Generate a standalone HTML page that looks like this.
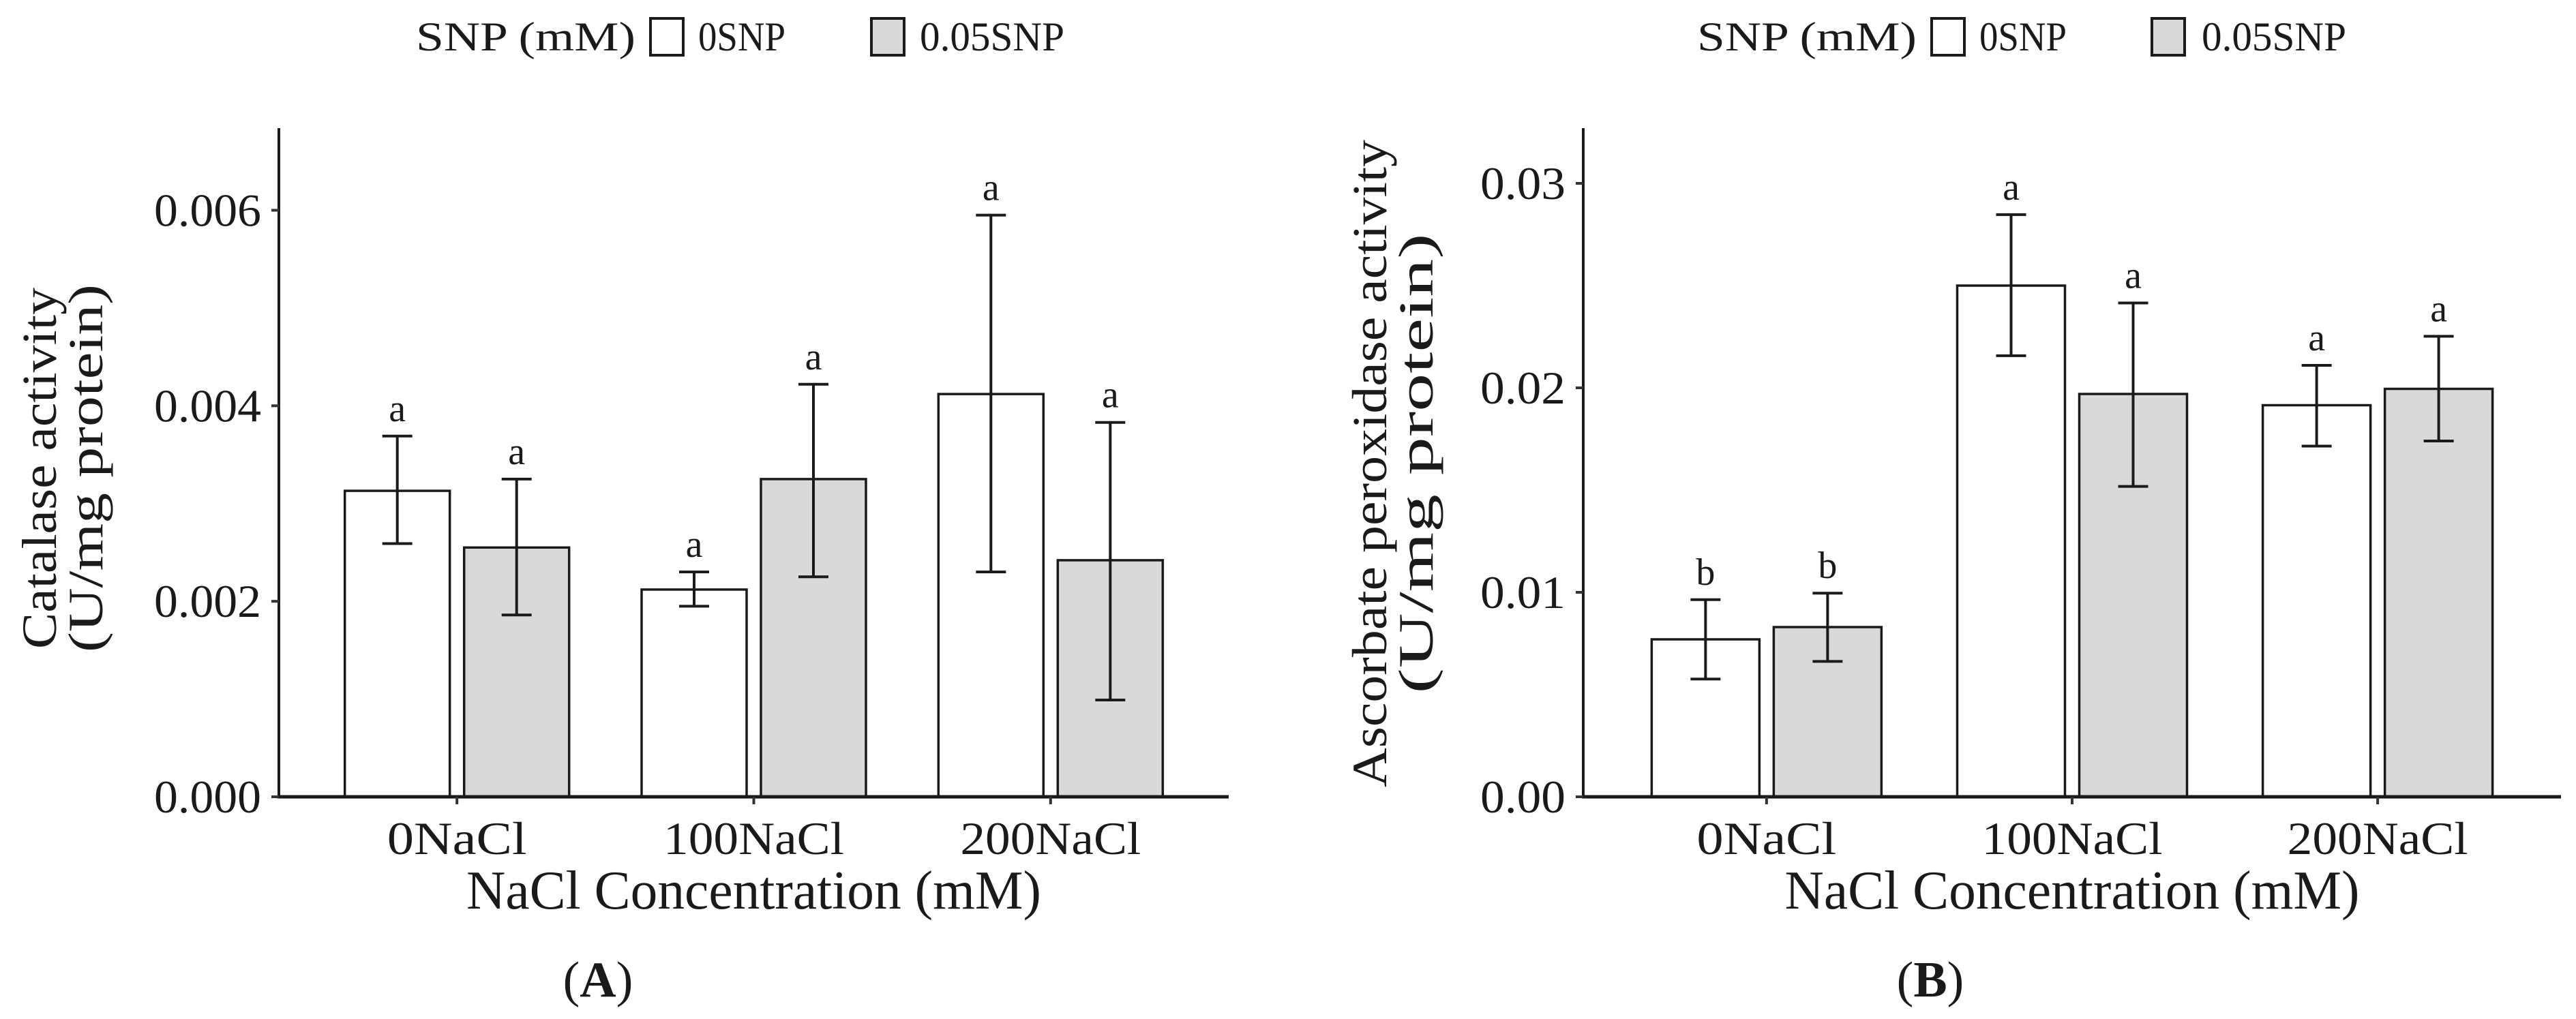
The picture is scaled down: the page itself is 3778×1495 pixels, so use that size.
<!DOCTYPE html>
<html><head><meta charset="utf-8"><style>
html,body{margin:0;padding:0;background:#fff}
svg{display:block}
text{font-family:"Liberation Serif",serif;fill:#1a1a1a}
</style></head><body>
<svg id="fig" width="3778" height="1495" viewBox="0 0 3778 1495" xmlns="http://www.w3.org/2000/svg"></svg>
<script>
const categories = ["0NaCl","100NaCl","200NaCl"];
const seriesNames = ["0SNP","0.05SNP"];
// Panel A: catalase
const catalase0 = [0.00313,0.00212,0.00412];
const catalase0Lo = [0.00259,0.00195,0.00230];
const catalase0Hi = [0.00369,0.00230,0.00595];
const catalase05 = [0.00255,0.00325,0.00242];
const catalase05Lo = [0.00186,0.00225,0.00099];
const catalase05Hi = [0.00325,0.00422,0.00383];
const catalaseLetters0 = ["a","a","a"];
const catalaseLetters05 = ["a","a","a"];
const catalaseTicks = [0,0.002,0.004,0.006];
const catalaseTickLabels = ["0.000","0.002","0.004","0.006"];
// Panel B: ascorbate peroxidase
const apx0 = [0.0077,0.0250,0.01915];
const apx0Lo = [0.00576,0.02157,0.01715];
const apx0Hi = [0.00964,0.02847,0.0211];
const apx05 = [0.0083,0.0197,0.01995];
const apx05Lo = [0.00662,0.01518,0.0174];
const apx05Hi = [0.00996,0.02415,0.02252];
const apxLetters0 = ["b","a","a"];
const apxLetters05 = ["b","a","a"];
const apxTicks = [0,0.01,0.02,0.03];
const apxTickLabels = ["0.00","0.01","0.02","0.03"];

const svg = document.getElementById('fig');
const NS = "http://www.w3.org/2000/svg";
function mk(tag, attrs, parent){
  const e = document.createElementNS(NS, tag);
  for (const k in attrs) e.setAttribute(k, attrs[k]);
  (parent||svg).appendChild(e);
  return e;
}
const TL = {"0.000":157,"0.002":157,"0.004":157,"0.006":157,"0.00":125,"0.01":125,"0.02":125,"0.03":125,
  "0NaCl":205,"100NaCl":265,"200NaCl":265};

function panel(cfg){
  const g = mk('g', {});
  
  
  const x0 = cfg.x0, x1 = cfg.x1, yTop = 188, yZero = 1169;
  const y = v => yZero - (v / cfg.ymax) * (yZero - yTop);
  const unit = (x1 - x0) / 3.2;
  const xc = i => x0 + unit * (0.6 + i);
  const bw = cfg.bw, gap = 21;
  // legend
  const lg = mk('g', {}, g);
  
  
  const lt = mk('text', {x: cfg.leg[0], y: 74, 'font-size': 60, textLength: 322, lengthAdjust: 'spacingAndGlyphs'}, lg);
  lt.textContent = "SNP (mM)";
  
  
  const fills = ["#ffffff", "#d9d9d9"];
  const lens = [128, 212];
  for (let s = 0; s < 2; s++){
    const bx = cfg.leg[1 + s*2];
    const r = mk('rect', {x: bx, y: 27, width: 48, height: 54, fill: fills[s], stroke: '#1a1a1a', 'stroke-width': 4}, lg);
    
    
    const t = mk('text', {x: cfg.leg[2 + s*2], y: 74, 'font-size': 60, textLength: lens[s], lengthAdjust: 'spacingAndGlyphs'}, lg);
    t.textContent = seriesNames[s];
    
    
  }
  // bars
  const sets = [
    {v: cfg.s0, lo: cfg.s0lo, hi: cfg.s0hi, let: cfg.l0, off: -gap/2 - bw},
    {v: cfg.s1, lo: cfg.s1lo, hi: cfg.s1hi, let: cfg.l1, off: gap/2}
  ];
  sets.forEach((st, s) => {
    for (let i = 0; i < categories.length; i++){
      const bx = xc(i) + st.off;
      const r = mk('rect', {x: bx, y: y(st.v[i]), width: bw, height: yZero - y(st.v[i]), fill: fills[s], stroke: '#1a1a1a', 'stroke-width': 3.5}, g);
      
      
      const cx = bx + bw/2;
      const eg = mk('g', {stroke: '#1a1a1a', 'stroke-width': 4}, g);
      
      
      mk('line', {x1: cx, x2: cx, y1: y(st.lo[i]), y2: y(st.hi[i])}, eg);
      mk('line', {x1: cx-22, x2: cx+22, y1: y(st.lo[i]), y2: y(st.lo[i])}, eg);
      mk('line', {x1: cx-22, x2: cx+22, y1: y(st.hi[i]), y2: y(st.hi[i])}, eg);
      const lt2 = mk('text', {x: cx, y: y(st.hi[i]) - 22, 'font-size': 56, 'text-anchor': 'middle'}, g);
      lt2.textContent = st.let[i];
      
      
    }
  });
  // axes
  const ax = mk('line', {x1: x0, x2: x0, y1: yTop, y2: yZero + 2, stroke: '#1a1a1a', 'stroke-width': 4}, g);
  
  
  const bx2 = mk('line', {x1: x0 - 2, x2: x1, y1: yZero, y2: yZero, stroke: '#1a1a1a', 'stroke-width': 5}, g);
  
  
  cfg.ticks.forEach((tv, k) => {
    mk('line', {x1: x0 - 11, x2: x0, y1: y(tv), y2: y(tv), stroke: '#333', 'stroke-width': 4}, g);
    const t = mk('text', {x: x0 - 26, y: y(tv) + 23, 'font-size': 68, 'text-anchor': 'end', textLength: TL[cfg.tickLabels[k]], lengthAdjust: 'spacingAndGlyphs'}, g);
    t.textContent = cfg.tickLabels[k];
    
    
  });
  categories.forEach((c, i) => {
    mk('line', {x1: xc(i), x2: xc(i), y1: yZero, y2: yZero + 11, stroke: '#333', 'stroke-width': 4}, g);
    const t = mk('text', {x: xc(i), y: 1253, 'font-size': 68, 'text-anchor': 'middle', textLength: TL[c], lengthAdjust: 'spacingAndGlyphs'}, g);
    t.textContent = c;
    
    
  });
  const xt = mk('text', {x: (x0 + x1)/2, y: 1333, 'font-size': 80, 'text-anchor': 'middle', textLength: 843, lengthAdjust: 'spacingAndGlyphs'}, g);
  xt.textContent = "NaCl Concentration (mM)";
  
  
  const yt = mk('text', {transform: `translate(${cfg.ytx},${cfg.yty}) rotate(-90)`, 'font-size': 72, 'text-anchor': 'middle'}, g);
  
  
  const t1 = mk('tspan', {x: 0, dy: 0, textLength: cfg.yl1, lengthAdjust: 'spacingAndGlyphs'}, yt); t1.textContent = cfg.ytitle;
  const t2 = mk('tspan', {x: 0, dy: 68, textLength: cfg.yl2, lengthAdjust: 'spacingAndGlyphs'}, yt); t2.textContent = "(U/mg protein)";
  const pl = mk('text', {x: cfg.plx, y: 1462, 'font-size': 74, 'text-anchor': 'middle'}, g);
  
  
  const a = mk('tspan', {}, pl); a.textContent = "(";
  const b = mk('tspan', {'font-weight': 'bold'}, pl); b.textContent = cfg.label;
  const c2 = mk('tspan', {}, pl); c2.textContent = ")";
}

panel({name: 'panel-a-catalase', x0: 409, x1: 1802, ymax: 0.00684, bw: 154,
  s0: catalase0, s0lo: catalase0Lo, s0hi: catalase0Hi,
  s1: catalase05, s1lo: catalase05Lo, s1hi: catalase05Hi,
  l0: catalaseLetters0, l1: catalaseLetters05,
  ticks: catalaseTicks, tickLabels: catalaseTickLabels,
  leg: [610, 954, 1024, 1278, 1349],
  ytx: 82, yty: 687, ytitle: "Catalase activity", yl1: 530, yl2: 540, plx: 877, label: "A"});
panel({name: 'panel-b-apx', x0: 2322, x1: 3756, ymax: 0.0327, bw: 158,
  s0: apx0, s0lo: apx0Lo, s0hi: apx0Hi,
  s1: apx05, s1lo: apx05Lo, s1hi: apx05Hi,
  l0: apxLetters0, l1: apxLetters05,
  ticks: apxTicks, tickLabels: apxTickLabels,
  leg: [2489, 2833, 2903, 3156, 3229],
  ytx: 2033, yty: 680, ytitle: "Ascorbate peroxidase activity", yl1: 950, yl2: 675, plx: 2831, label: "B"});
</script>
</body></html>
